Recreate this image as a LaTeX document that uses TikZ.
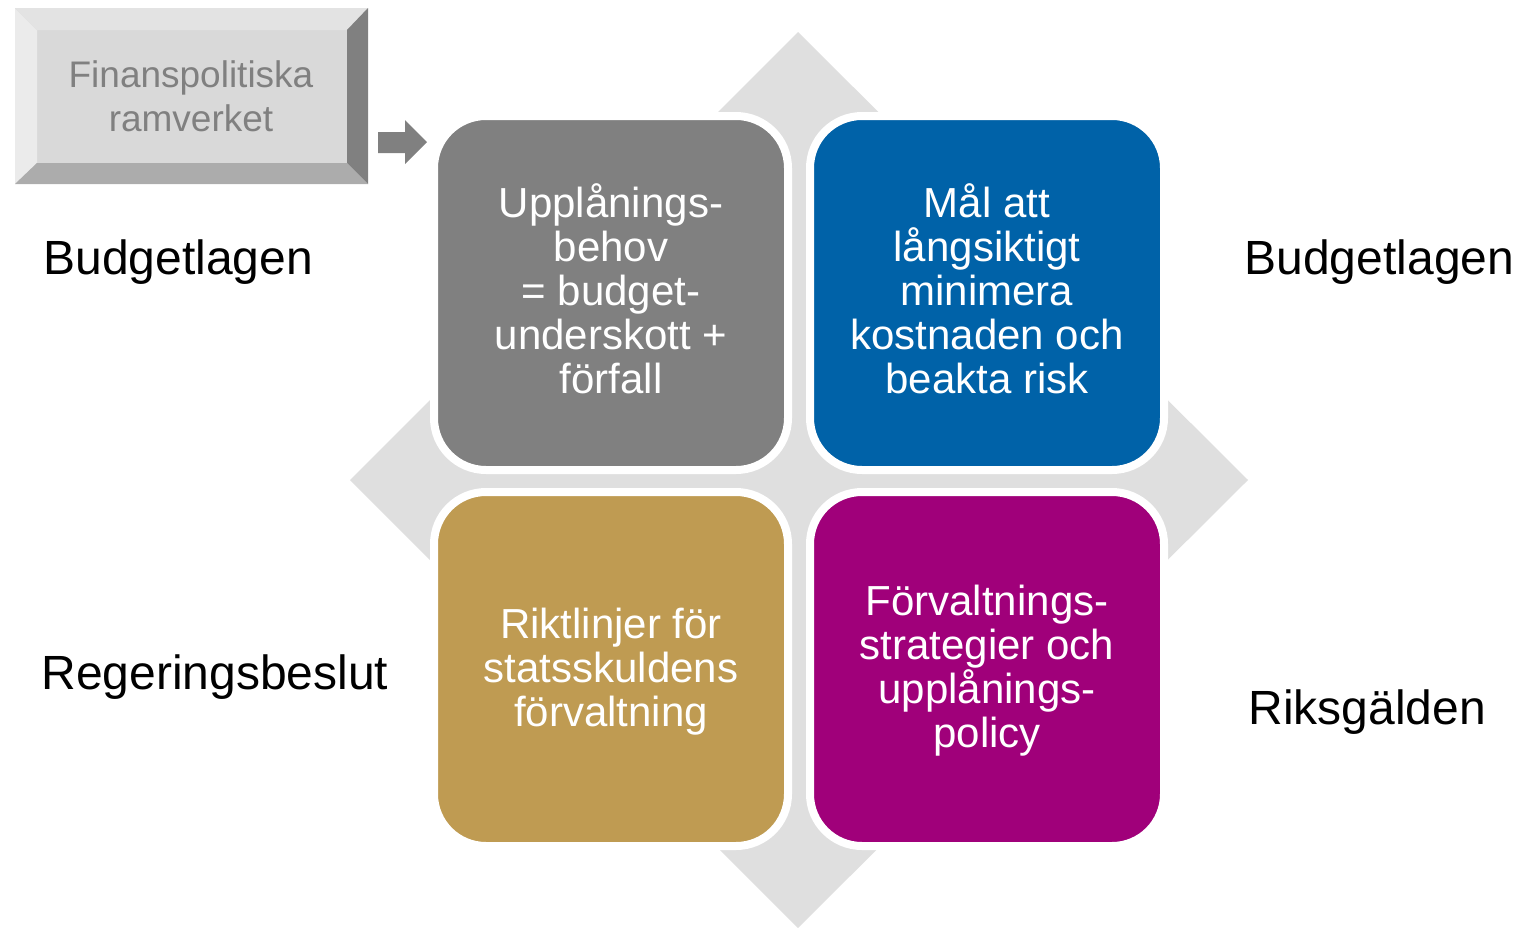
\documentclass[tikz,border=0pt]{standalone}
\usepackage{fontspec}
\setmainfont{Liberation Sans}
\usetikzlibrary{calc}

\definecolor{diagray}{HTML}{DFDFDF}
\definecolor{boxgray}{HTML}{808080}
\definecolor{boxblue}{HTML}{0062A8}
\definecolor{boxgold}{HTML}{BF9B52}
\definecolor{boxpurple}{HTML}{A0007A}

\begin{document}
\begin{tikzpicture}[line cap=round,line join=round,x=1pt,y=-1pt,
  quad/.style={rectangle,rounded corners=52pt,draw=white,line width=8pt,
    minimum width=354pt,minimum height=354pt},
  quadtext/.style={text=white,align=center,font=\fontsize{42}{44}\selectfont},
  side/.style={font=\fontsize{48}{52}\selectfont,anchor=west}]
\useasboundingbox (0,0) rectangle (1519,927);

\coordinate (T) at (798,32);
\coordinate (R) at (1248,480);
\coordinate (B) at (798,928);
\coordinate (L) at (350,480);

% diamond behind
\fill[diagray] (T) -- (R) -- (B) -- (L) -- cycle;

% bevel box
\fill[white!85!black] (15,8) rectangle (368,184);
\fill[white!92!black] (15,8) -- (37,30) -- (37,163) -- (15,184) -- cycle;
\fill[white!89!black] (15,8) -- (368,8) -- (347,30) -- (37,30) -- cycle;
\fill[boxgray] (368,8) -- (368,184) -- (347,163) -- (347,30) -- cycle;
\fill[boxgray!65!white] (15,184) -- (368,184) -- (347,163) -- (37,163) -- cycle;
\node[text=boxgray,align=center,font=\fontsize{37}{44}\selectfont] (ram) at (191,96)
  {Finanspolitiska\\ramverket};

% arrow
\fill[boxgray] (378,132) -- (405,132) -- (405,120) -- (427,142) -- (405,164)
  -- (405,153) -- (378,153) -- cycle;

% four boxes
\node[quad,fill=boxgray] (upp) at (611,293) {};
\node[quad,fill=boxblue] (mal) at (987,293) {};
\node[quad,fill=boxgold] (rikt) at (611,669) {};
\node[quad,fill=boxpurple] (forv) at (987,669) {};

\node[quadtext] (upptxt) at ($(upp)+(0,-4)$)
  {Upplånings-\\behov\\= budget-\\underskott +\\förfall};
\node[quadtext] (maltxt) at ($(mal)+(0,-4)$)
  {Mål att\\långsiktigt\\minimera\\kostnaden och\\beakta risk};
\node[quadtext] (rikttxt) at ($(rikt)+(0,3)$)
  {Riktlinjer för\\statsskuldens\\förvaltning};
\node[quadtext] (forvtxt) at ($(forv)+(0,2)$)
  {Förvaltnings-\\strategier och\\upplånings-\\policy};

\node[side] (bl1) at (40,262) {Budgetlagen};
\node[side] (bl2) at (1241,262) {Budgetlagen};
\node[side] (reg) at (38,677) {Regeringsbeslut};
\node[side] (riks) at (1245,712) {Riksgälden};
\end{tikzpicture}
\end{document}
